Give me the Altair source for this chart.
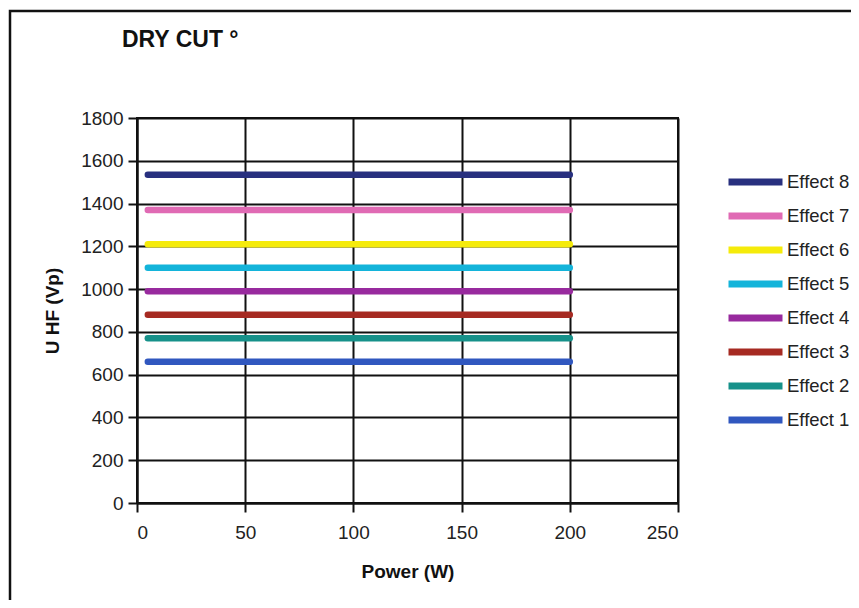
import altair as alt
import pandas as pd

title_text = "DRY CUT °"
effects = ["Effect 8", "Effect 7", "Effect 6", "Effect 5", "Effect 4", "Effect 3", "Effect 2", "Effect 1"]
voltages = [1535, 1370, 1210, 1100, 990, 880, 770, 660]
power_start = [5, 5, 5, 5, 5, 5, 5, 5]
power_end = [200, 200, 200, 200, 200, 200, 200, 200]
colors = ["#28307F", "#E06AB4", "#F5EB0A", "#14B4DA", "#982A9E", "#A62A22", "#16918A", "#3057BF"]

rows = []
for e, v, s, t in zip(effects, voltages, power_start, power_end):
    rows.append({"Effect": e, "Power": s, "U": v})
    rows.append({"Effect": e, "Power": t, "U": v})
df = pd.DataFrame(rows)

FONT = "Liberation Sans"

lines = alt.Chart(df).mark_line(strokeWidth=6.5, strokeCap="round").encode(
    x=alt.X("Power:Q", scale=alt.Scale(domain=[0, 250], nice=False),
            axis=alt.Axis(values=[0, 50, 100, 150, 200, 250], title="Power (W)",
                          titlePadding=20, format="d", labelPadding=11)),
    y=alt.Y("U:Q", scale=alt.Scale(domain=[0, 1800], nice=False),
            axis=alt.Axis(values=list(range(0, 1801, 200)), title="U HF (Vp)",
                          titlePadding=18, format="d", labelPadding=5)),
    color=alt.Color("Effect:N", scale=alt.Scale(domain=effects, range=colors),
                    legend=alt.Legend(title=None, orient="none", legendX=588, legendY=52,
                                      symbolType="stroke", symbolStrokeWidth=7,
                                      symbolSize=2916, labelFontSize=18.5, labelFont=FONT,
                                      labelColor="#222", labelOffset=1, rowPadding=10,
                                      clipHeight=24, labelLimit=200)),
)

title_df = pd.DataFrame({"t": [title_text]})
title_mark = alt.Chart(title_df).mark_text(
    align="left", baseline="middle", fontSize=23, fontWeight="bold", font=FONT, color="#111"
).encode(text="t:N", x=alt.value(-15), y=alt.value(-78))

border_df = pd.DataFrame({"a": [0]})
border = alt.Chart(border_df).mark_rect(fill=None, stroke="#111", strokeWidth=2.5).encode(
    x=alt.value(-127), x2=alt.value(900), y=alt.value(-107), y2=alt.value(700)
)

chart = alt.layer(border, lines, title_mark).properties(
    width=541, height=385,
    background="white",
    autosize=alt.AutoSizeParams(type="none"),
    padding={"left": 129, "top": 110, "right": 173, "bottom": 97},
).configure_view(stroke="#111", strokeWidth=2).configure_axis(
    grid=True, gridColor="#111", gridWidth=2, gridOpacity=1,
    domainColor="#111", domainWidth=2, tickColor="#111", tickWidth=2, tickSize=9,
    labelFont=FONT, labelFontSize=19, labelColor="#222",
    titleFont=FONT, titleFontSize=19, titleFontWeight="bold", titleColor="#111",
)

chart.save("out.html", embed_options={"renderer": "svg", "actions": False})
